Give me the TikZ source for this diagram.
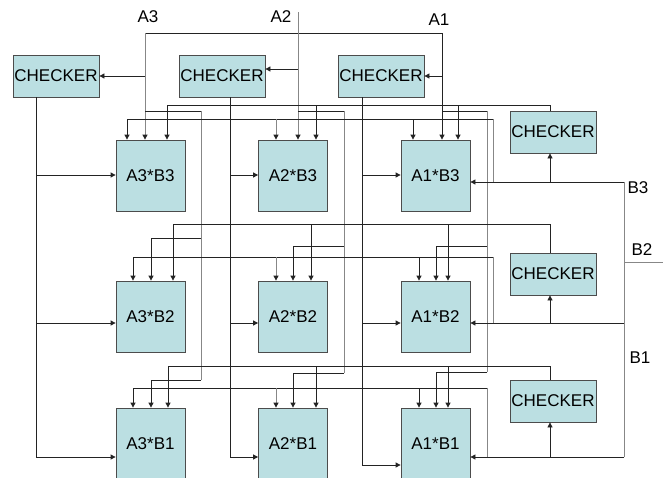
\documentclass[tikz,border=0pt]{standalone}
\usepackage{fontspec}
\setmainfont{Liberation Sans}
\usetikzlibrary{arrows.meta}
\definecolor{boxfill}{RGB}{187,223,226}
\definecolor{wdark}{RGB}{35,35,35}
\definecolor{wgray}{RGB}{135,135,135}
\tikzset{
  mbox/.style={draw=black!70, fill=boxfill, line width=0.8pt, minimum width=69pt, minimum height=71pt, inner sep=0pt, font=\fontsize{17}{19}\selectfont},
  chk/.style={draw=black!70, fill=boxfill, line width=0.8pt, minimum width=86pt, minimum height=42pt, inner sep=0pt, font=\fontsize{17}{19}\selectfont},
  wire/.style={draw=wdark, line width=0.8pt},
  gwire/.style={draw=wgray, line width=0.9pt},
  arr/.style={-{Triangle[length=5pt,width=5pt,color=wdark]}},
  lbl/.style={font=\fontsize{17}{19}\selectfont, inner sep=0pt},
}
\begin{document}
\begin{tikzpicture}[x=1pt,y=-1pt]
\useasboundingbox (0,0) rectangle (663,477);
\clip (0,0) rectangle (663,477);
\fill[white] (0,0) rectangle (663,477);

% coordinates: A inputs
\coordinate (a3top) at (145,33);
\coordinate (a1top) at (442,33);
\coordinate (a2top) at (298,12);
\coordinate (a3c) at (145,76);
\coordinate (a1c) at (442,76);
\coordinate (a2c) at (298,69);
% A branches
\coordinate (a3j) at (145,111); \coordinate (a3k) at (201,111);
\coordinate (a3m) at (201,238); \coordinate (a3n) at (151,238);
\coordinate (a3p) at (201,380); \coordinate (a3q) at (151,380);
\coordinate (a2j) at (298,111); \coordinate (a2k) at (344,111);
\coordinate (a2m) at (344,246); \coordinate (a2n) at (293,246);
\coordinate (a2p) at (344,373); \coordinate (a2q) at (293,373);
\coordinate (a1j) at (442,111); \coordinate (a1k) at (487,111);
\coordinate (a1m) at (487,246); \coordinate (a1n) at (436,246);
\coordinate (a1p) at (487,372); \coordinate (a1q) at (436,372);
% checker outputs (left)
\coordinate (k3) at (36,97);  \coordinate (k3e) at (36,457);
\coordinate (k2) at (230,97); \coordinate (k2e) at (230,457);
\coordinate (k1) at (362,97); \coordinate (k1e) at (362,465);
\coordinate (r3) at (0,175); \coordinate (r2) at (0,323);
% right checker buses
\coordinate (q3) at (550,105); \coordinate (q3a) at (167,105); \coordinate (q3b) at (316,105); \coordinate (q3c) at (458,105);
\coordinate (q2) at (550,224); \coordinate (q2a) at (173,224); \coordinate (q2b) at (311,224); \coordinate (q2c) at (448,224);
\coordinate (q1) at (550,366); \coordinate (q1a) at (168,366); \coordinate (q1b) at (316,366); \coordinate (q1c) at (448,366);
% B buses
\coordinate (b3r) at (624,182); \coordinate (b3k) at (550,182); \coordinate (b3j) at (493,182);
\coordinate (b3t) at (493,119); \coordinate (b3a) at (127,119); \coordinate (b3b) at (276,119); \coordinate (b3c) at (413,119);
\coordinate (b2r) at (624,323); \coordinate (b2k) at (550,323); \coordinate (b2j) at (493,323);
\coordinate (b2t) at (493,257); \coordinate (b2a) at (133,257); \coordinate (b2b) at (276,257); \coordinate (b2c) at (419,257);
\coordinate (b2o) at (624,262); \coordinate (b2x) at (663,262);
\coordinate (b1r) at (624,457); \coordinate (b1k) at (550,457); \coordinate (b1j) at (487,457);
\coordinate (b1t) at (487,388); \coordinate (b1a) at (133,388); \coordinate (b1b) at (276,388); \coordinate (b1c) at (419,388);

% ---------- boxes ----------
\node[chk] (C3) at (56,76) {CHECKER};
\node[chk] (C2) at (222,76) {CHECKER};
\node[chk] (C1) at (381,76) {CHECKER};
\node[chk] (CB3) at (553,132) {CHECKER};
\node[chk] (CB2) at (553,274) {CHECKER};
\node[chk] (CB1) at (553,401) {CHECKER};
\node[mbox] (M33) at (150.5,175.5) {A3*B3};
\node[mbox] (M23) at (293,175.5) {A2*B3};
\node[mbox] (M13) at (435.5,175.5) {A1*B3};
\node[mbox] (M32) at (150.5,316.5) {A3*B2};
\node[mbox] (M22) at (293,316.5) {A2*B2};
\node[mbox] (M12) at (435.5,316.5) {A1*B2};
\node[mbox] (M31) at (150.5,443.5) {A3*B1};
\node[mbox] (M21) at (293,443.5) {A2*B1};
\node[mbox] (M11) at (435.5,443.5) {A1*B1};

% labels
\node[lbl] (LA3) at (148,17) {A3};
\node[lbl] (LA2) at (281,17) {A2};
\node[lbl] (LA1) at (439,20) {A1};
\node[lbl] (LB3) at (638,188) {B3};
\node[lbl] (LB2) at (642,250) {B2};
\node[lbl] (LB1) at (640,358) {B1};

% ---------- A inputs ----------
\draw[wire] (a3top) -- (a1top);
\draw[gwire,arr] (a3top) -- (a3top |- M33.north);
\draw[wire,arr] (a3c) -- (C3.east);
\draw[wire,arr] (a1top) -- (a1top |- M13.north);
\draw[wire,arr] (a1c) -- (C1.east);
\draw[gwire,arr] (a2top) -- (a2top |- M23.north);
\draw[wire,arr] (a2c) -- (a2c -| C2.east);

% A branches to lower rows
\draw[wire] (a3j) -- (a3k);
\draw[gwire] (a3k) -- (a3p);
\draw[wire] (a3m) -- (a3n);
\draw[wire] (a3p) -- (a3q);
\draw[wire,arr] (a3n) -- (a3n |- M32.north);
\draw[wire,arr] (a3q) -- (a3q |- M31.north);
\draw[wire] (a2j) -- (a2k);
\draw[gwire] (a2k) -- (a2p);
\draw[wire] (a2m) -- (a2n);
\draw[wire] (a2p) -- (a2q);
\draw[wire,arr] (a2n) -- (a2n |- M22.north);
\draw[wire,arr] (a2q) -- (a2q |- M21.north);
\draw[wire] (a1j) -- (a1k);
\draw[gwire] (a1k) -- (a1p);
\draw[wire] (a1m) -- (a1n);
\draw[wire] (a1p) -- (a1q);
\draw[wire,arr] (a1n) -- (a1n |- M12.north);
\draw[wire,arr] (a1q) -- (a1q |- M11.north);

% ---------- checker outputs to left sides ----------
\draw[wire,arr] (k3) -- (k3e) -- (k3e -| M31.west);
\draw[wire,arr] (k3 |- r3) -- (r3 -| M33.west);
\draw[wire,arr] (k3 |- r2) -- (r2 -| M32.west);
\draw[wire,arr] (k2) -- (k2e) -- (k2e -| M21.west);
\draw[wire,arr] (k2 |- r3) -- (r3 -| M23.west);
\draw[wire,arr] (k2 |- r2) -- (r2 -| M22.west);
\draw[wire,arr] (k1) -- (k1e) -- (k1e -| M11.west);
\draw[wire,arr] (k1 |- r3) -- (r3 -| M13.west);
\draw[wire,arr] (k1 |- r2) -- (r2 -| M12.west);

% ---------- right checker buses ----------
\draw[wire] (q3 |- CB3.north) -- (q3) -- (q3a);
\draw[wire,arr] (q3a) -- (q3a |- M33.north);
\draw[wire,arr] (q3b) -- (q3b |- M23.north);
\draw[wire,arr] (q3c) -- (q3c |- M13.north);
\draw[wire] (q2 |- CB2.north) -- (q2) -- (q2a);
\draw[wire,arr] (q2a) -- (q2a |- M32.north);
\draw[wire,arr] (q2b) -- (q2b |- M22.north);
\draw[wire,arr] (q2c) -- (q2c |- M12.north);
\draw[wire] (q1 |- CB1.north) -- (q1) -- (q1a);
\draw[wire,arr] (q1a) -- (q1a |- M31.north);
\draw[wire,arr] (q1b) -- (q1b |- M21.north);
\draw[wire,arr] (q1c) -- (q1c |- M11.north);

% ---------- B buses ----------
\draw[gwire] (b3r) -- (b1r);
\draw[gwire] (b2o) -- (b2x);
% B3
\draw[wire,arr] (b3r) -- (b3r -| M13.east);
\draw[wire,arr] (b3k) -- (b3k |- CB3.south);
\draw[gwire] (b3j) -- (b3t);
\draw[wire] (b3t) -- (b3a);
\draw[wire,arr] (b3a) -- (b3a |- M33.north);
\draw[gwire,arr] (b3b) -- (b3b |- M23.north);
\draw[wire,arr] (b3c) -- (b3c |- M13.north);
% B2
\draw[wire,arr] (b2r) -- (b2r -| M12.east);
\draw[wire,arr] (b2k) -- (b2k |- CB2.south);
\draw[gwire] (b2j) -- (b2t);
\draw[wire] (b2t) -- (b2a);
\draw[wire,arr] (b2a) -- (b2a |- M32.north);
\draw[gwire,arr] (b2b) -- (b2b |- M22.north);
\draw[wire,arr] (b2c) -- (b2c |- M12.north);
% B1
\draw[wire,arr] (b1r) -- (b1r -| M11.east);
\draw[wire,arr] (b1k) -- (b1k |- CB1.south);
\draw[gwire] (b1j) -- (b1t);
\draw[wire] (b1t) -- (b1a);
\draw[wire,arr] (b1a) -- (b1a |- M31.north);
\draw[gwire,arr] (b1b) -- (b1b |- M21.north);
\draw[wire,arr] (b1c) -- (b1c |- M11.north);
\end{tikzpicture}
\end{document}
